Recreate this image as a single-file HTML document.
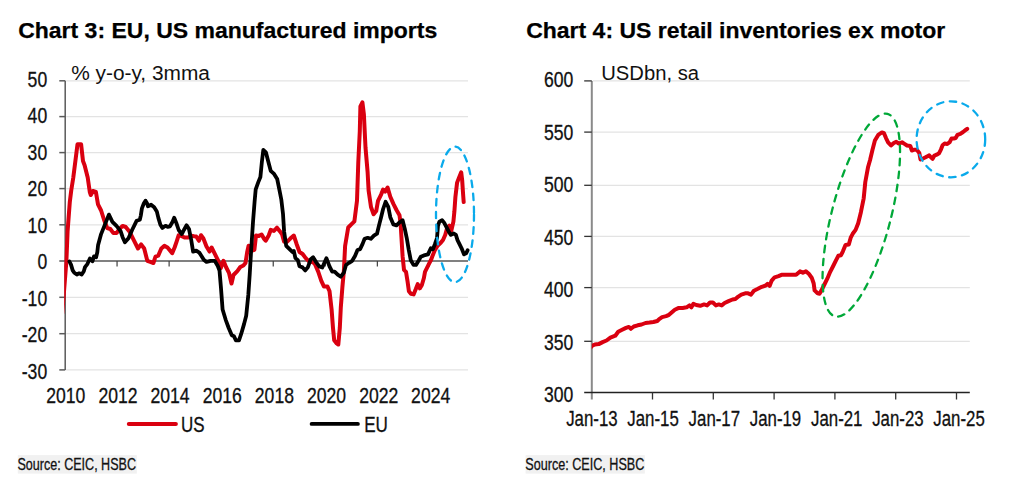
<!DOCTYPE html>
<html><head><meta charset="utf-8"><style>
html,body{margin:0;padding:0;background:#fff;}
svg{display:block;font-family:"Liberation Sans",sans-serif;}
text.n{stroke:#111;stroke-width:0.3px;}
text.t{stroke:#000;stroke-width:0.25px;}
</style></head><body>
<svg width="1024" height="487" viewBox="0 0 1024 487">
<rect width="1024" height="487" fill="#fff"/>
<text x="18.20" y="38.40" font-size="22.7" font-weight="bold" class="t" fill="#000" textLength="419.00" lengthAdjust="spacingAndGlyphs">Chart 3: EU, US manufactured imports</text>
<line x1="66.20" y1="80.80" x2="468.00" y2="80.80" stroke="#e3e3e3" stroke-width="1.3"/>
<line x1="66.20" y1="116.60" x2="468.00" y2="116.60" stroke="#e3e3e3" stroke-width="1.3"/>
<line x1="66.20" y1="152.60" x2="468.00" y2="152.60" stroke="#e3e3e3" stroke-width="1.3"/>
<line x1="66.20" y1="188.60" x2="468.00" y2="188.60" stroke="#e3e3e3" stroke-width="1.3"/>
<line x1="66.20" y1="224.80" x2="468.00" y2="224.80" stroke="#e3e3e3" stroke-width="1.3"/>
<line x1="66.20" y1="297.30" x2="468.00" y2="297.30" stroke="#e3e3e3" stroke-width="1.3"/>
<line x1="66.20" y1="333.70" x2="468.00" y2="333.70" stroke="#e3e3e3" stroke-width="1.3"/>
<line x1="66.20" y1="369.90" x2="468.00" y2="369.90" stroke="#e3e3e3" stroke-width="1.3"/>
<line x1="59.30" y1="261.00" x2="468.00" y2="261.00" stroke="#808080" stroke-width="1.8"/>
<line x1="65.20" y1="80.80" x2="65.20" y2="369.90" stroke="#5a5a5a" stroke-width="1.5"/>
<line x1="59.30" y1="80.80" x2="65.20" y2="80.80" stroke="#5a5a5a" stroke-width="1.5"/>
<text class="n" x="27.60" y="86.80" font-size="22" fill="#111" textLength="19.58" lengthAdjust="spacingAndGlyphs">50</text>
<line x1="59.30" y1="116.60" x2="65.20" y2="116.60" stroke="#5a5a5a" stroke-width="1.5"/>
<text class="n" x="27.60" y="123.30" font-size="22" fill="#111" textLength="19.58" lengthAdjust="spacingAndGlyphs">40</text>
<line x1="59.30" y1="152.60" x2="65.20" y2="152.60" stroke="#5a5a5a" stroke-width="1.5"/>
<text class="n" x="27.60" y="159.80" font-size="22" fill="#111" textLength="19.58" lengthAdjust="spacingAndGlyphs">30</text>
<line x1="59.30" y1="188.60" x2="65.20" y2="188.60" stroke="#5a5a5a" stroke-width="1.5"/>
<text class="n" x="27.60" y="196.30" font-size="22" fill="#111" textLength="19.58" lengthAdjust="spacingAndGlyphs">20</text>
<line x1="59.30" y1="224.80" x2="65.20" y2="224.80" stroke="#5a5a5a" stroke-width="1.5"/>
<text class="n" x="27.60" y="232.80" font-size="22" fill="#111" textLength="19.58" lengthAdjust="spacingAndGlyphs">10</text>
<text class="n" x="37.38" y="269.30" font-size="22" fill="#111" textLength="9.79" lengthAdjust="spacingAndGlyphs">0</text>
<line x1="59.30" y1="297.30" x2="65.20" y2="297.30" stroke="#5a5a5a" stroke-width="1.5"/>
<text class="n" x="21.74" y="305.80" font-size="22" fill="#111" textLength="25.44" lengthAdjust="spacingAndGlyphs">-10</text>
<line x1="59.30" y1="333.70" x2="65.20" y2="333.70" stroke="#5a5a5a" stroke-width="1.5"/>
<text class="n" x="21.74" y="342.30" font-size="22" fill="#111" textLength="25.44" lengthAdjust="spacingAndGlyphs">-20</text>
<line x1="59.30" y1="369.90" x2="65.20" y2="369.90" stroke="#5a5a5a" stroke-width="1.5"/>
<text class="n" x="21.74" y="378.80" font-size="22" fill="#111" textLength="25.44" lengthAdjust="spacingAndGlyphs">-30</text>
<text class="n" x="46.22" y="402.70" font-size="22" fill="#111" textLength="39.15" lengthAdjust="spacingAndGlyphs">2010</text>
<line x1="117.06" y1="261.00" x2="117.06" y2="266.50" stroke="#404040" stroke-width="1.2"/>
<text class="n" x="98.47" y="402.70" font-size="22" fill="#111" textLength="39.15" lengthAdjust="spacingAndGlyphs">2012</text>
<line x1="169.12" y1="261.00" x2="169.12" y2="266.50" stroke="#404040" stroke-width="1.2"/>
<text class="n" x="150.42" y="402.70" font-size="22" fill="#111" textLength="39.15" lengthAdjust="spacingAndGlyphs">2014</text>
<line x1="221.18" y1="261.00" x2="221.18" y2="266.50" stroke="#404040" stroke-width="1.2"/>
<text class="n" x="202.69" y="402.70" font-size="22" fill="#111" textLength="39.15" lengthAdjust="spacingAndGlyphs">2016</text>
<line x1="273.24" y1="261.00" x2="273.24" y2="266.50" stroke="#404040" stroke-width="1.2"/>
<text class="n" x="254.83" y="402.70" font-size="22" fill="#111" textLength="39.15" lengthAdjust="spacingAndGlyphs">2018</text>
<line x1="325.30" y1="261.00" x2="325.30" y2="266.50" stroke="#404040" stroke-width="1.2"/>
<text class="n" x="306.92" y="402.70" font-size="22" fill="#111" textLength="39.15" lengthAdjust="spacingAndGlyphs">2020</text>
<line x1="377.36" y1="261.00" x2="377.36" y2="266.50" stroke="#404040" stroke-width="1.2"/>
<text class="n" x="359.17" y="402.70" font-size="22" fill="#111" textLength="39.15" lengthAdjust="spacingAndGlyphs">2022</text>
<line x1="429.42" y1="261.00" x2="429.42" y2="266.50" stroke="#404040" stroke-width="1.2"/>
<text class="n" x="411.12" y="402.70" font-size="22" fill="#111" textLength="39.15" lengthAdjust="spacingAndGlyphs">2024</text>
<text x="71.17" y="80.30" font-size="20" fill="#111" textLength="138.81" lengthAdjust="spacingAndGlyphs">% y-o-y, 3mma</text>
<line x1="128.80" y1="423.90" x2="175.90" y2="423.90" stroke="#DA0010" stroke-width="4" stroke-linecap="round"/>
<text class="n" x="181.09" y="432.30" font-size="22" fill="#111" textLength="23.57" lengthAdjust="spacingAndGlyphs">US</text>
<line x1="311.60" y1="423.90" x2="357.90" y2="423.90" stroke="#000" stroke-width="3.8" stroke-linecap="round"/>
<text class="n" x="364.20" y="432.30" font-size="22" fill="#111" textLength="23.70" lengthAdjust="spacingAndGlyphs">EU</text>
<rect x="17.8" y="455.1" width="119" height="18.5" fill="#f1f1f1"/>
<text class="n" x="17.44" y="469.80" font-size="16.4" fill="#111" textLength="118.53" lengthAdjust="spacingAndGlyphs">Source: CEIC, HSBC</text>
<text x="526.20" y="38.40" font-size="22.7" font-weight="bold" class="t" fill="#000" textLength="419.00" lengthAdjust="spacingAndGlyphs">Chart 4: US retail inventories ex motor</text>
<line x1="592.80" y1="80.90" x2="969.80" y2="80.90" stroke="#e3e3e3" stroke-width="1.3"/>
<line x1="592.80" y1="132.10" x2="969.80" y2="132.10" stroke="#e3e3e3" stroke-width="1.3"/>
<line x1="592.80" y1="185.30" x2="969.80" y2="185.30" stroke="#e3e3e3" stroke-width="1.3"/>
<line x1="592.80" y1="236.40" x2="969.80" y2="236.40" stroke="#e3e3e3" stroke-width="1.3"/>
<line x1="592.80" y1="287.60" x2="969.80" y2="287.60" stroke="#e3e3e3" stroke-width="1.3"/>
<line x1="592.80" y1="341.30" x2="969.80" y2="341.30" stroke="#e3e3e3" stroke-width="1.3"/>
<line x1="591.80" y1="80.90" x2="591.80" y2="399.50" stroke="#8a8a8a" stroke-width="2"/>
<line x1="584.20" y1="80.90" x2="591.80" y2="80.90" stroke="#333" stroke-width="1.3"/>
<text class="n" x="544.01" y="87.30" font-size="22" fill="#111" textLength="29.37" lengthAdjust="spacingAndGlyphs">600</text>
<line x1="584.20" y1="132.10" x2="591.80" y2="132.10" stroke="#333" stroke-width="1.3"/>
<text class="n" x="544.01" y="139.75" font-size="22" fill="#111" textLength="29.37" lengthAdjust="spacingAndGlyphs">550</text>
<line x1="584.20" y1="185.30" x2="591.80" y2="185.30" stroke="#333" stroke-width="1.3"/>
<text class="n" x="544.01" y="192.20" font-size="22" fill="#111" textLength="29.37" lengthAdjust="spacingAndGlyphs">500</text>
<line x1="584.20" y1="236.40" x2="591.80" y2="236.40" stroke="#333" stroke-width="1.3"/>
<text class="n" x="544.01" y="244.65" font-size="22" fill="#111" textLength="29.37" lengthAdjust="spacingAndGlyphs">450</text>
<line x1="584.20" y1="287.60" x2="591.80" y2="287.60" stroke="#333" stroke-width="1.3"/>
<text class="n" x="544.01" y="297.10" font-size="22" fill="#111" textLength="29.37" lengthAdjust="spacingAndGlyphs">400</text>
<line x1="584.20" y1="341.30" x2="591.80" y2="341.30" stroke="#333" stroke-width="1.3"/>
<text class="n" x="544.01" y="349.55" font-size="22" fill="#111" textLength="29.37" lengthAdjust="spacingAndGlyphs">350</text>
<text class="n" x="544.01" y="402.00" font-size="22" fill="#111" textLength="29.37" lengthAdjust="spacingAndGlyphs">300</text>
<line x1="584.20" y1="392.50" x2="969.80" y2="392.50" stroke="#222" stroke-width="1.4"/>
<text class="n" x="566.16" y="425.80" font-size="22" fill="#111" textLength="51.46" lengthAdjust="spacingAndGlyphs">Jan-13</text>
<line x1="652.50" y1="392.50" x2="652.50" y2="399.50" stroke="#333" stroke-width="1.3"/>
<text class="n" x="627.34" y="425.80" font-size="22" fill="#111" textLength="51.46" lengthAdjust="spacingAndGlyphs">Jan-15</text>
<line x1="713.30" y1="392.50" x2="713.30" y2="399.50" stroke="#333" stroke-width="1.3"/>
<text class="n" x="688.62" y="425.80" font-size="22" fill="#111" textLength="51.46" lengthAdjust="spacingAndGlyphs">Jan-17</text>
<line x1="774.10" y1="392.50" x2="774.10" y2="399.50" stroke="#333" stroke-width="1.3"/>
<text class="n" x="749.79" y="425.80" font-size="22" fill="#111" textLength="51.46" lengthAdjust="spacingAndGlyphs">Jan-19</text>
<line x1="834.90" y1="392.50" x2="834.90" y2="399.50" stroke="#333" stroke-width="1.3"/>
<text class="n" x="811.00" y="425.80" font-size="22" fill="#111" textLength="51.46" lengthAdjust="spacingAndGlyphs">Jan-21</text>
<line x1="895.70" y1="392.50" x2="895.70" y2="399.50" stroke="#333" stroke-width="1.3"/>
<text class="n" x="872.16" y="425.80" font-size="22" fill="#111" textLength="51.46" lengthAdjust="spacingAndGlyphs">Jan-23</text>
<line x1="956.50" y1="392.50" x2="956.50" y2="399.50" stroke="#333" stroke-width="1.3"/>
<text class="n" x="933.34" y="425.80" font-size="22" fill="#111" textLength="51.46" lengthAdjust="spacingAndGlyphs">Jan-25</text>
<text x="601.24" y="80.40" font-size="20" fill="#111" textLength="97.75" lengthAdjust="spacingAndGlyphs">USDbn, sa</text>
<rect x="525.6" y="455.1" width="119.2" height="18.5" fill="#f1f1f1"/>
<text class="n" x="525.33" y="469.80" font-size="16.4" fill="#111" textLength="119.04" lengthAdjust="spacingAndGlyphs">Source: CEIC, HSBC</text>
<defs><clipPath id="cl"><rect x="64.2" y="0" width="420" height="487"/></clipPath><clipPath id="cr"><rect x="591.8" y="0" width="420" height="487"/></clipPath></defs>
<g clip-path="url(#cl)">
<polyline points="62.3,313.0 66.4,261.0 67.6,231.0 69.8,202.0 71.3,190.0 73.3,177.5 76.4,153.0 77.5,144.2 81.1,144.2 83.0,161.0 84.6,165.2 87.7,177.5 89.8,192.0 90.8,195.0 92.9,191.0 95.9,192.0 98.0,204.4 101.1,210.5 104.1,220.0 107.2,228.0 110.3,229.0 113.4,233.1 116.5,233.1 119.5,229.0 122.6,225.9 125.7,227.0 129.8,232.1 133.9,240.3 138.0,248.5 141.1,244.4 144.2,248.5 147.3,260.8 150.3,261.9 153.4,263.0 155.5,256.7 158.2,255.7 161.3,248.5 164.4,245.9 167.5,247.5 172.2,253.1 174.6,247.5 176.7,241.3 178.7,235.2 181.8,236.2 184.9,237.6 188.0,237.6 191.1,235.6 194.1,236.2 196.2,236.5 198.9,240.8 201.0,235.2 203.4,238.5 206.5,246.5 209.5,251.6 211.6,247.5 214.7,253.7 217.8,259.8 220.8,268.0 223.5,260.8 226.0,267.0 229.1,273.2 231.5,283.5 233.5,275.0 237.3,271.1 240.3,267.0 243.4,265.5 245.5,263.0 247.2,252.0 248.6,245.8 251.3,250.9 254.4,249.9 256.0,235.5 258.9,235.9 261.6,234.5 263.9,238.6 265.7,240.7 268.7,235.5 270.8,229.8 273.9,231.0 277.0,227.7 280.0,231.4 282.1,234.5 284.1,241.7 287.2,241.7 290.3,238.6 293.8,235.5 296.5,243.7 299.5,252.0 302.6,254.0 305.7,258.1 309.8,262.2 312.1,261.3 315.1,264.4 318.2,271.6 321.3,280.8 324.0,286.6 327.5,286.6 329.5,291.1 331.6,309.5 333.0,328.0 334.2,340.3 336.7,343.4 338.3,344.5 339.8,328.0 340.8,307.5 342.4,287.0 343.9,270.5 345.1,246.0 348.2,227.5 351.3,224.4 354.4,221.3 357.0,200.8 358.3,162.0 359.8,131.0 360.4,106.4 362.4,102.3 363.9,114.6 365.5,147.5 367.6,172.0 368.6,190.5 371.0,207.0 373.6,214.3 376.2,211.1 378.0,200.8 381.1,194.6 383.1,189.5 385.2,191.6 387.6,187.5 390.3,196.7 393.4,203.9 396.5,210.0 399.5,215.2 400.6,223.4 401.6,239.8 402.6,256.2 404.0,269.8 406.0,271.8 407.5,281.1 408.9,291.3 410.9,293.8 413.6,294.4 415.7,289.3 417.7,284.1 419.8,288.3 421.8,285.2 423.9,278.0 425.0,271.8 429.1,263.6 431.2,259.5 432.7,255.4 434.8,250.3 437.3,246.2 440.4,243.1 443.0,240.0 445.2,235.0 447.2,227.8 449.3,225.7 451.3,230.8 453.4,221.6 454.4,211.3 455.4,197.0 457.1,182.6 459.5,176.4 461.2,172.3 462.2,180.5 463.0,192.9 463.7,202.1" fill="none" stroke="#DA0010" stroke-width="4" stroke-linejoin="round" stroke-linecap="round"/>
<polyline points="69.4,261.5 71.0,264.6 72.7,270.4 74.3,272.8 76.8,274.5 79.2,273.3 81.7,274.5 83.8,271.2 85.0,267.1 87.5,263.8 89.9,258.5 92.4,261.3 94.0,256.4 96.1,257.2 97.3,252.3 98.1,244.9 101.1,234.1 105.2,223.9 108.9,214.6 112.4,221.8 116.5,225.9 120.6,231.1 122.6,237.2 124.9,242.3 128.5,238.2 132.1,230.0 136.7,220.7 139.8,219.7 140.8,215.6 141.9,208.4 143.9,203.2 145.5,200.7 147.0,203.2 148.0,206.3 151.1,204.8 154.2,207.3 156.8,211.4 158.3,217.6 160.4,224.8 162.4,227.9 165.5,225.8 167.6,226.9 170.0,226.3 172.6,221.8 174.2,217.7 176.3,222.9 178.7,230.0 181.8,234.1 183.9,230.0 186.6,225.3 189.0,229.0 191.1,239.3 193.1,251.6 196.2,250.6 199.3,252.6 201.3,255.7 203.8,259.8 206.5,261.9 210.6,260.8 214.7,260.8 217.8,266.0 219.5,270.5 220.9,287.0 222.6,309.5 225.7,319.8 228.7,328.0 231.8,335.2 233.9,336.2 235.9,340.3 239.0,340.3 241.1,334.2 244.1,323.9 246.2,315.7 248.3,295.0 249.7,274.6 251.3,248.0 253.0,222.1 254.6,201.6 255.7,189.3 258.3,182.1 260.4,177.0 261.8,162.6 263.3,149.9 265.9,152.3 268.0,160.5 270.7,170.8 274.1,173.9 277.2,179.0 279.3,189.3 281.3,199.5 283.0,213.9 284.1,231.4 286.2,245.8 289.3,248.9 292.4,252.0 293.8,250.9 295.4,258.1 297.9,260.2 299.5,266.3 302.6,267.4 305.3,270.4 307.8,267.4 310.8,259.1 313.1,257.2 316.2,262.3 319.2,266.4 322.3,267.5 326.4,258.2 329.5,266.4 332.2,271.6 334.6,271.6 337.7,274.6 340.8,276.7 343.9,272.6 346.0,265.0 349.1,262.8 352.2,260.8 355.0,256.0 357.5,250.0 360.1,249.1 362.6,243.9 364.6,238.8 367.7,237.8 370.8,238.8 373.9,235.7 377.0,233.7 379.0,225.4 381.1,217.2 383.1,209.0 385.6,201.8 388.3,207.0 390.3,217.2 393.4,224.4 396.5,225.4 399.5,222.4 402.6,220.3 404.7,228.5 406.7,237.8 408.8,250.1 410.8,260.3 413.5,264.9 416.0,264.9 418.7,260.5 420.8,256.8 423.9,255.4 428.0,254.4 430.8,248.3 432.9,249.3 434.9,244.2 437.0,238.0 438.0,225.7 439.4,221.6 442.1,220.2 444.1,222.6 446.2,226.7 448.9,231.9 450.9,234.9 453.8,233.5 455.9,234.9 457.5,240.1 459.5,244.2 461.6,248.3 464.0,254.4 466.1,253.4 467.6,250.3" fill="none" stroke="#000" stroke-width="3.8" stroke-linejoin="round" stroke-linecap="round"/>
</g><g clip-path="url(#cr)">
<polyline points="590.5,347.5 592.5,345.5 594.8,344.6 598.7,344.1 602.6,342.1 606.5,340.5 610.4,337.6 615.3,335.7 618.2,331.8 622.1,329.8 626.0,327.9 628.9,326.9 630.9,328.8 633.8,326.5 637.7,325.3 641.6,324.5 645.5,323.0 649.5,322.6 653.4,322.0 657.3,321.0 659.2,319.1 662.1,317.1 666.1,316.1 669.0,314.8 671.9,312.2 674.8,309.7 678.8,307.9 682.7,307.9 686.6,307.3 689.5,305.4 691.4,307.3 693.4,303.8 696.3,305.0 700.2,305.8 704.1,304.4 707.1,305.4 710.0,302.5 712.9,302.5 715.9,305.4 718.8,304.4 721.7,305.4 724.6,303.0 728.6,301.1 732.5,299.5 735.4,299.1 738.3,296.6 741.3,294.6 745.2,293.3 748.1,293.3 751.0,294.6 753.9,290.7 757.9,288.8 761.8,286.8 765.7,285.5 767.6,283.9 769.6,285.9 771.7,280.6 774.6,277.3 778.5,276.1 781.5,274.8 787.3,274.8 796.1,274.8 800.0,271.4 802.9,272.8 805.9,271.4 808.8,273.8 811.7,277.7 813.7,283.5 814.6,290.4 817.6,293.3 819.5,293.7 821.5,290.4 824.4,284.5 827.3,278.7 830.2,271.8 833.2,266.0 836.1,260.1 838.4,255.8 841.0,255.2 842.9,251.3 845.5,244.9 848.8,244.5 850.7,237.7 852.7,233.8 855.6,229.9 858.2,223.2 860.9,212.2 863.7,198.3 865.3,182.0 868.0,167.3 870.0,160.3 872.5,149.7 874.9,140.6 878.2,134.9 881.9,132.4 884.0,133.2 886.0,138.1 888.1,142.3 891.0,145.5 893.8,143.1 896.3,141.8 898.8,143.5 902.0,142.3 904.5,143.9 907.0,145.5 910.3,146.0 911.9,150.5 914.4,149.7 916.8,149.7 919.3,152.9 920.5,159.5 922.6,158.7 925.1,157.5 927.5,156.2 929.2,155.4 930.7,157.0 932.6,158.8 934.4,155.6 936.7,154.7 939.0,153.3 940.9,149.6 942.7,145.0 944.6,143.6 947.3,144.0 949.7,142.2 951.5,138.5 953.8,138.5 955.7,138.0 957.5,134.8 960.3,133.9 963.1,132.0 965.4,130.2 967.2,128.8" fill="none" stroke="#DA0010" stroke-width="4" stroke-linejoin="round" stroke-linecap="round"/>
</g>
<ellipse cx="455.0" cy="214.4" rx="19.0" ry="67.7" fill="none" stroke="#0AAAEB" stroke-width="2.3" stroke-dasharray="6.5 6.5" stroke-linecap="round"/>
<ellipse cx="950.9" cy="139.3" rx="34.3" ry="38" fill="none" stroke="#0AAAEB" stroke-width="2.3" stroke-dasharray="6.5 6.5" stroke-linecap="round"/>
<ellipse cx="861.3" cy="215.15" rx="29.5" ry="104.6" transform="rotate(14.5 861.3 215.15)" fill="none" stroke="#00A838" stroke-width="2.3" stroke-dasharray="6.5 6.5" stroke-linecap="round"/>
</svg>
</body></html>
